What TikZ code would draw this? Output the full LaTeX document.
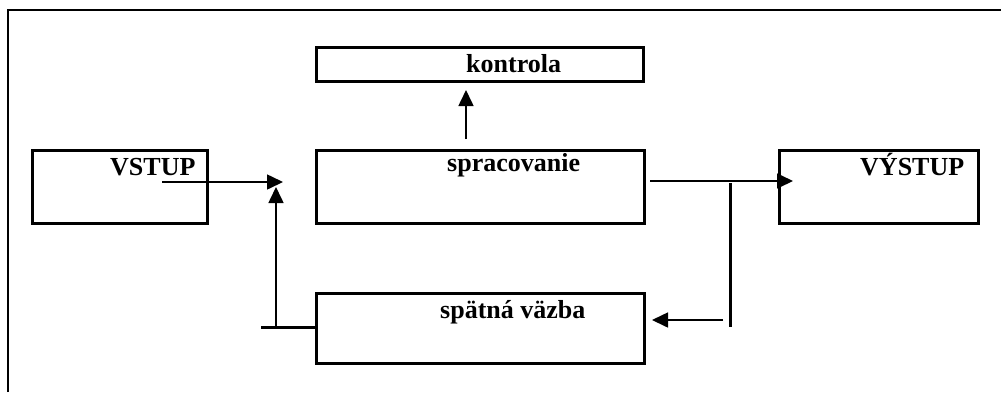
\documentclass[tikz,border=0pt]{standalone}
\usepackage{fontspec}
\setmainfont{Liberation Serif}
\usepackage{tikz}
\usetikzlibrary{arrows.meta,positioning,calc}

\tikzset{
  blok/.style={draw, line width=3pt, inner sep=0pt, minimum height=73pt},
  popis/.style={anchor=base west, inner sep=0pt, font=\fontsize{26}{30}\selectfont\bfseries},
  tok/.style={-{Triangle[length=16pt,width=15pt]}, line width=1.6pt},
  hrana/.style={line width=3pt}
}

\begin{document}
\begin{tikzpicture}[x=1pt,y=-1pt]
        \useasboundingbox (0,0) rectangle (1001,392);

        % Draw frame (top and left edge)
        \draw[line width=2pt] (7.5,392) -- (7.5,10) -- (1001,10);

        % Draw boxes
        \node[blok, minimum width=327pt, minimum height=34pt] (kontrola) at (479.5,64) {};
        \node[blok, minimum width=175pt] (vstup) at (119.5,186.5) {};
        \node[blok, minimum width=328pt] (spracovanie) at (480,186.5) {};
        \node[blok, minimum width=199pt] (vystup) at (878.5,186.5) {};
        \node[blok, minimum width=328pt, minimum height=70pt] (spatna) at (480,328) {};

        % Box labels
        \node[popis] (tkontrola) at (466,72) {kontrola};
        \node[popis] (tvstup) at (110,175) {VSTUP};
        \node[popis] (tspracovanie) at (447,171) {spracovanie};
        \node[popis] (tvystup) at (860,175) {VÝSTUP};
        \node[popis] (tspatna) at (440,318) {spätná väzba};

        % Free ends of the connectors
        \coordinate (vin) at (162,182);
        \coordinate (spoj) at (283,182);
        \coordinate (spojdole) at (276,327);
        \coordinate (spojhore) at (276,187);
        \coordinate (lavykoniec) at (261,327);
        \coordinate (kstart) at (466,139);
        \coordinate (kciel) at (466,90);
        \coordinate (vyin) at (650,181);
        \coordinate (vyciel) at (793,181);
        \coordinate (odbhore) at (730,183);
        \coordinate (odbdole) at (730,327);
        \coordinate (spstart) at (723,320);
        \coordinate (spciel) at (652,320);

        % Input into the junction
        \draw[tok] (vin) -- (spoj);

        % Feedback back to the junction
        \draw[tok] (spojdole) -- (spojhore);
        \draw[hrana] (lavykoniec) -- (spatna.west |- lavykoniec);

        % Processing to control
        \draw[tok] (kstart) -- (kciel);

        % Processing to output
        \draw[tok] (vyin) -- (vyciel);
        \draw[hrana] (odbhore) -- (odbdole);
        \draw[tok] (spstart) -- (spciel);

    \end{tikzpicture}
\end{document}
